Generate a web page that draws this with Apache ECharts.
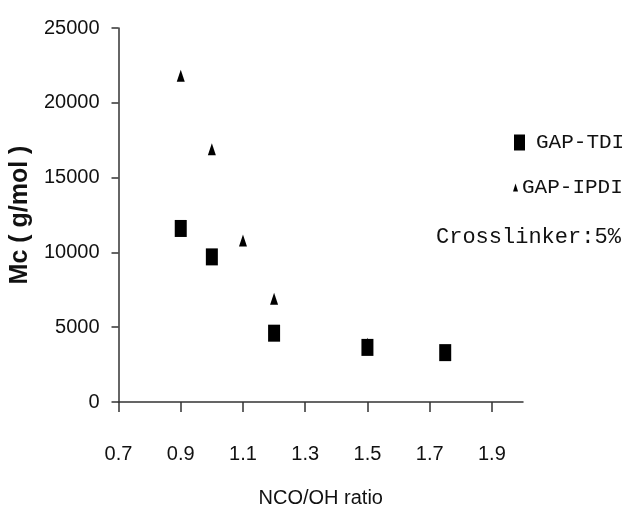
<!DOCTYPE html>
<html>
<head>
<meta charset="utf-8">
<script src="https://cdn.jsdelivr.net/npm/echarts@6/dist/echarts.min.js"></script>
<style>
  html, body { margin: 0; padding: 0; background: #fff; }
  #chart { width: 627px; height: 513px; }
</style>
</head>
<body>
<div id="chart"></div>
<script>
// data
const ratioTDI = [0.9, 1.0, 1.2, 1.5, 1.75]
const mcTDI = [11600, 9700, 4600, 3650, 3300]
const ratioIPDI = [0.9, 1.0, 1.1, 1.2, 1.5]
const mcIPDI = [21800, 16900, 10800, 6900, 3900]
const xTicks = [0.7, 0.9, 1.1, 1.3, 1.5, 1.7, 1.9]
const yTicks = [0, 5000, 10000, 15000, 20000, 25000]

const axisColor = '#333'
const labelFont = { fontFamily: 'Liberation Sans', fontSize: 20, color: '#111' }
const monoFont = { fontFamily: 'Liberation Mono', fontSize: 21, color: '#111' }

const chart = echarts.init(document.getElementById('chart'))

chart.setOption({
  animation: false,
  backgroundColor: '#fff',
  grid: { left: 115, right: 104, top: 28, bottom: 106 },
  xAxis: {
    type: 'value',
    min: 0.7,
    max: 2.0,
    name: 'NCO/OH ratio',
    nameLocation: 'middle',
    nameGap: 86,
    nameTextStyle: { ...labelFont },
    splitLine: { show: false },
    axisLine: { show: true, onZero: false, lineStyle: { color: axisColor, width: 1.5 } },
    axisTick: { show: true, length: 10, customValues: xTicks, lineStyle: { color: axisColor, width: 1.5 } },
    axisLabel: { ...labelFont, margin: 42, customValues: xTicks, formatter: v => v.toFixed(1) }
  },
  yAxis: {
    type: 'value',
    min: 0,
    max: 25000,
    interval: 5000,
    name: 'Mc ( g/mol )',
    nameLocation: 'middle',
    nameGap: 76,
    nameTextStyle: { fontFamily: 'Liberation Sans', fontSize: 25, fontWeight: 'bold', color: '#111' },
    splitLine: { show: false },
    axisLine: { show: true, lineStyle: { color: axisColor, width: 1.5 } },
    axisTick: { show: true, length: 7, customValues: yTicks, lineStyle: { color: axisColor, width: 1.5 } },
    axisLabel: { ...labelFont, margin: 19, customValues: yTicks, formatter: v => String(v) }
  },
  legend: [
    {
      data: [{ name: 'GAP-TDI', icon: 'rect' }],
      left: 509,
      top: 127,
      itemWidth: 11,
      itemHeight: 16,
      itemGap: 0,
      textStyle: { ...monoFont, padding: [0, 0, 0, 6] },
      selectedMode: false
    },
    {
      data: [{ name: 'GAP-IPDI', icon: 'triangle' }],
      left: 508,
      top: 172,
      itemWidth: 5,
      itemHeight: 8,
      itemGap: 0,
      textStyle: { ...monoFont, padding: [0, 0, 0, -1] },
      selectedMode: false
    }
  ],
  graphic: [
    {
      type: 'text',
      left: 436,
      top: 226,
      style: { text: 'Crosslinker:5%', font: '22px "Liberation Mono"', fill: '#111' }
    }
  ],
  series: [
    {
      name: 'GAP-IPDI',
      type: 'scatter',
      symbol: 'triangle',
      symbolSize: [8, 12],
      itemStyle: { color: '#000', opacity: 1 },
      data: ratioIPDI.map((x, i) => [x, mcIPDI[i]])
    },
    {
      name: 'GAP-TDI',
      type: 'scatter',
      symbol: 'rect',
      symbolSize: [12, 17],
      itemStyle: { color: '#000', opacity: 1 },
      data: ratioTDI.map((x, i) => [x, mcTDI[i]])
    }
  ]
})
</script>
</body>
</html>
